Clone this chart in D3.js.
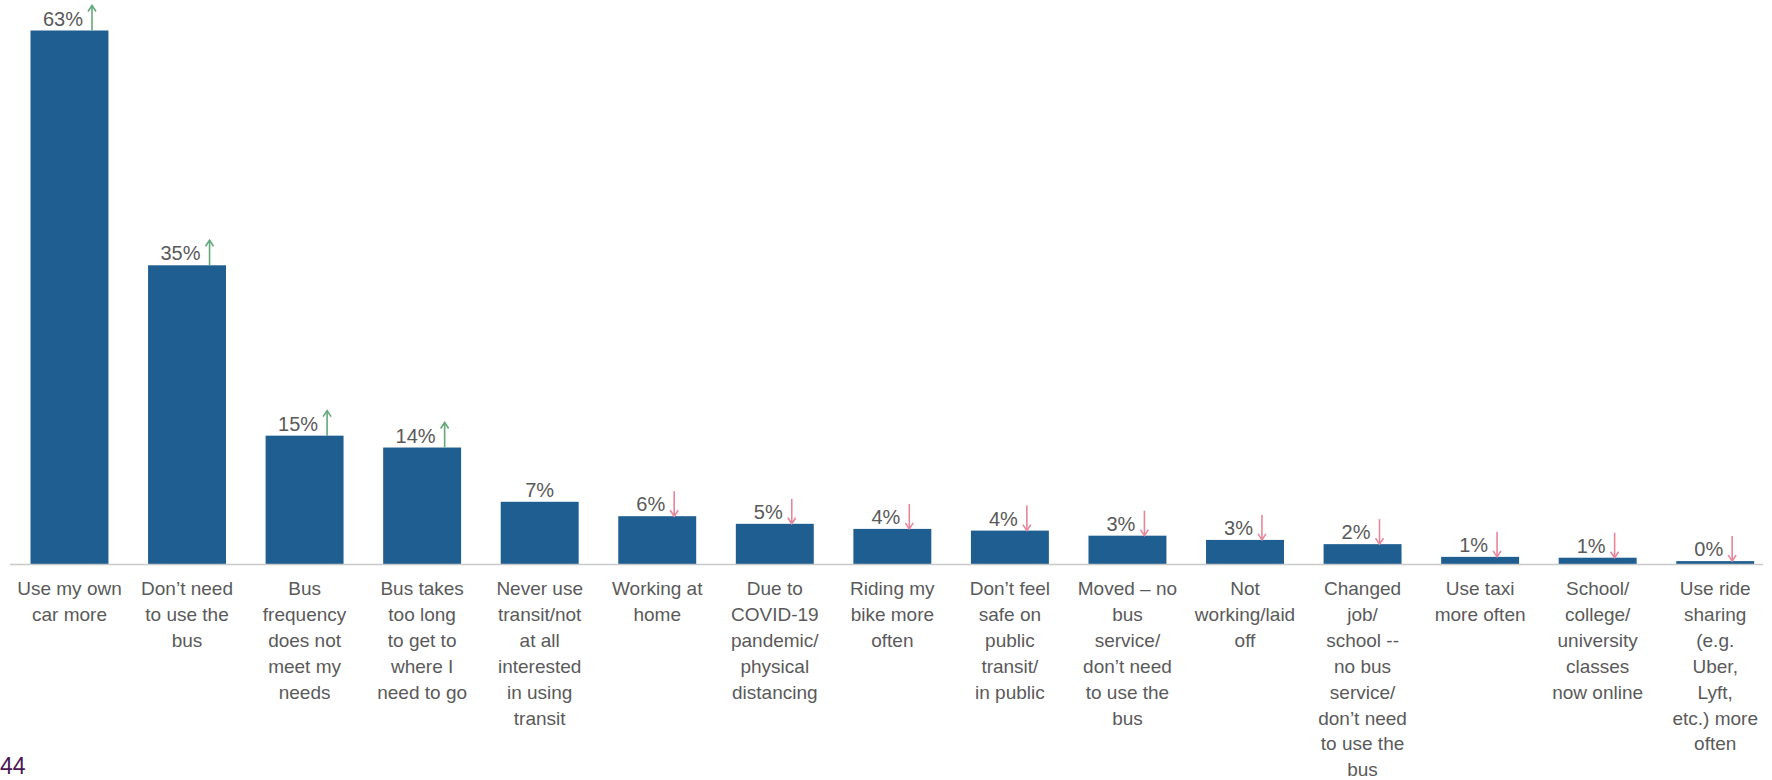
<!DOCTYPE html>
<html>
<head>
<meta charset="utf-8">
<script src="https://cdn.jsdelivr.net/npm/d3@7"></script>
<style>
  html, body { margin: 0; padding: 0; background: #fff; }
  svg { display: block; }
  text { font-family: "Liberation Sans", Arial, sans-serif; }
</style>
</head>
<body>
<svg id="chart" width="1772" height="780"></svg>
<script>
const categories = [
  ["Use my own", "car more"],
  ["Don\u2019t need", "to use the", "bus"],
  ["Bus", "frequency", "does not", "meet my", "needs"],
  ["Bus takes", "too long", "to get to", "where I", "need to go"],
  ["Never use", "transit/not", "at all", "interested", "in using", "transit"],
  ["Working at", "home"],
  ["Due to", "COVID-19", "pandemic/", "physical", "distancing"],
  ["Riding my", "bike more", "often"],
  ["Don\u2019t feel", "safe on", "public", "transit/", "in public"],
  ["Moved \u2013 no", "bus", "service/", "don\u2019t need", "to use the", "bus"],
  ["Not", "working/laid", "off"],
  ["Changed", "job/", "school --", "no bus", "service/", "don\u2019t need", "to use the", "bus"],
  ["Use taxi", "more often"],
  ["School/", "college/", "university", "classes", "now online"],
  ["Use ride", "sharing", "(e.g.", "Uber,", "Lyft,", "etc.) more", "often"]
];
const values = [63.0, 35.3, 15.2, 13.8, 7.4, 5.7, 4.8, 4.2, 4.0, 3.4, 2.9, 2.4, 0.9, 0.8, 0.4];
const valueLabels = ["63%", "35%", "15%", "14%", "7%", "6%", "5%", "4%", "4%", "3%", "3%", "2%", "1%", "1%", "0%"];
const trends = ["up", "up", "up", "up", "none", "down", "down", "down", "down", "down", "down", "down", "down", "down", "down"];
const pageNumber = "44";

const svg = d3.select("#chart");
const baseline = 564.5;
const idx = d3.range(categories.length);

const x = d3.scaleBand().domain(idx).range([10.7, 1774]).paddingInner(0.337).paddingOuter(0.1685);
const y = d3.scaleLinear().domain([0, d3.max(values)]).range([baseline, 30.5]);

// bars
svg.append("g").selectAll("rect").data(idx).join("rect")
  .attr("x", i => x(i))
  .attr("y", i => y(values[i]))
  .attr("width", x.bandwidth())
  .attr("height", i => baseline - y(values[i]))
  .attr("fill", "#1f5e91");

// axis line
svg.append("line")
  .attr("x1", 10).attr("x2", 1763)
  .attr("y1", baseline).attr("y2", baseline)
  .attr("stroke", "#c9c9c9").attr("stroke-width", 1.5);

// value labels + arrows
const lg = svg.append("g");
idx.forEach(i => {
  const cx = x(i) + x.bandwidth() / 2;
  const top = y(values[i]);
  const t = lg.append("text")
    .attr("y", top - 5)
    .attr("font-size", 20)
    .attr("fill", "#595959")
    .text(valueLabels[i]);
  const w = t.node().getComputedTextLength();
  if (trends[i] === "none") {
    t.attr("x", cx).attr("text-anchor", "middle");
    return;
  }
  const start = cx - (w + 13) / 2;
  t.attr("x", start);
  const ax = start + w + 9;
  const col = trends[i] === "up" ? "#63a878" : "#e6869a";
  const y0 = top, y1 = top - 25;
  lg.append("line").attr("x1", ax).attr("x2", ax).attr("y1", y0).attr("y2", y1)
    .attr("stroke", col).attr("stroke-width", 1.6);
  const tipY = trends[i] === "up" ? y1 : y0;
  const dir = trends[i] === "up" ? 1 : -1;
  lg.append("path")
    .attr("d", `M${ax - 4},${tipY + dir * 6} L${ax},${tipY} L${ax + 4},${tipY + dir * 6}`)
    .attr("fill", "none").attr("stroke", col).attr("stroke-width", 1.6);
});

// category labels
const cg = svg.append("g");
idx.forEach(i => {
  const cx = x(i) + x.bandwidth() / 2;
  const t = cg.append("text")
    .attr("text-anchor", "middle")
    .attr("font-size", 19)
    .attr("fill", "#5a5a5a");
  categories[i].forEach((line, k) => {
    t.append("tspan").attr("x", cx).attr("y", 595 + k * 25.9).text(line);
  });
});

// page number
svg.append("text")
  .attr("x", 0).attr("y", 774)
  .attr("font-size", 23)
  .attr("font-family", "'DejaVu Sans', sans-serif")
  .attr("fill", "#4a1656")
  .text(pageNumber);
</script>
</body>
</html>
